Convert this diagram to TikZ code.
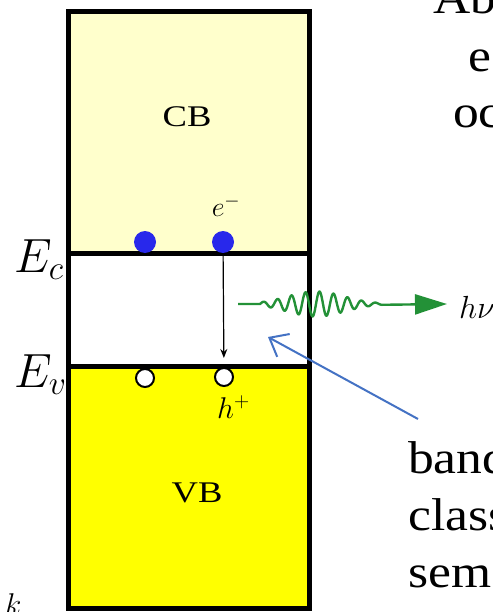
\RequirePackage{fix-cm}
\documentclass[tikz,border=0pt]{standalone}
\usepackage{fontspec}
\setmainfont{Liberation Serif}
\usepackage{graphicx}
\usetikzlibrary{arrows.meta}
\definecolor{cbfill}{RGB}{255,255,204}
\definecolor{vbfill}{RGB}{255,255,0}
\definecolor{elec}{RGB}{40,40,235}
\definecolor{wavegreen}{RGB}{35,145,55}
\definecolor{pointer}{RGB}{68,114,196}
\begin{document}
\begin{tikzpicture}[x=1pt,y=-1pt,
  bandline/.style={draw=black,line width=5pt},
  electron/.style={circle,fill=elec,inner sep=0pt,minimum size=22pt},
  hole/.style={circle,draw=black,fill=white,line width=2pt,inner sep=0pt,minimum size=18pt},
  bandlbl/.style={inner sep=0pt,font=\fontsize{30}{34}\selectfont},
  energylbl/.style={inner sep=0pt,font=\fontsize{48}{54}\selectfont},
  smalllbl/.style={inner sep=0pt,font=\fontsize{30}{34}\selectfont},
  elecsize/.style={font=\fontsize{28}{32}\selectfont},
  nusize/.style={font=\fontsize{32}{36}\selectfont},
  sidetext/.style={inner sep=0pt,anchor=base west,font=\fontsize{46}{54}\selectfont},
  wave/.style={draw=wavegreen,line width=2.4pt},
  pointerarrow/.style={draw=pointer,line width=2pt,-{Straight Barb[length=16pt,width=26pt,line width=2pt]}}
]
\useasboundingbox (0,0) rectangle (492,612);
\clip (0,0) rectangle (492,612);
\fill[white] (0,0) rectangle (492,612);

% band fills
\fill[cbfill] (68,12) rectangle (309,253);
\fill[vbfill] (68,366) rectangle (309,608);
% box and band edges
\draw[bandline] (68,12) rectangle (309,608);
\draw[bandline] (68,253) -- (309,253);
\draw[bandline] (68,366) -- (309,366);

% labels inside bands
\node[bandlbl,anchor=base] (cb) at (187,127) {\scalebox{1.22}[1]{CB}};
\node[bandlbl,anchor=base] (vb) at (197,502) {\scalebox{1.22}[1]{VB}};

% energy labels
\node[energylbl,anchor=base west] (ec) at (14,272) {$E_c$};
\node[energylbl,anchor=base west] (ev) at (14,387) {$E_v$};
\node[smalllbl,anchor=base west] (kk) at (5,614) {$k$};

% electrons and holes
\node[electron] (e1) at (145,242) {};
\node[electron] (e2) at (223,242) {};
\node[hole] (h1) at (145,378) {};
\node[hole] (h2) at (224,377) {};
\node[smalllbl,elecsize,anchor=base] (elbl) at (226,217) {$e^{-}$};
\node[smalllbl,anchor=base west] (hlbl) at (217,418) {$h^{+}$};

% recombination arrow
\draw[black,line width=1.2pt,-{Stealth[length=9pt,width=7pt]},shorten >=9pt] (e2) -- (h2);

% emitted photon
\coordinate (wstart) at (238,304);
\coordinate (wend) at (447,304);
\draw[wave,-{Triangle[length=32pt,width=20pt]}] (wstart) -- (260,304)
  -- plot[domain=260:382,samples=300,smooth] (\x,{304-12.5*exp(-((\x-316)/40)^2)*sin(25.714*(\x-260))})
  -- (wend);
\node[smalllbl,nusize,anchor=base west] (hnu) at (459,318) {$h\nu$};

% pointer arrow
\coordinate (ptail) at (418,419);
\coordinate (ptip) at (268,337);
\draw[pointerarrow] (ptail) -- (ptip);

% side text (cut off by the frame)
\node[sidetext] (t1) at (433,14) {\scalebox{1.12}[1]{Ab}};
\node[sidetext] (t2) at (468,72) {\scalebox{1.12}[1]{e}};
\node[sidetext] (t3) at (453,128) {\scalebox{1.12}[1]{oc}};
\node[sidetext] (t4) at (408,473) {\scalebox{1.12}[1]{band}};
\node[sidetext] (t5) at (408,530) {\scalebox{1.12}[1]{class}};
\node[sidetext] (t6) at (408,587) {\scalebox{1.12}[1]{sem}};
\end{tikzpicture}
\end{document}
